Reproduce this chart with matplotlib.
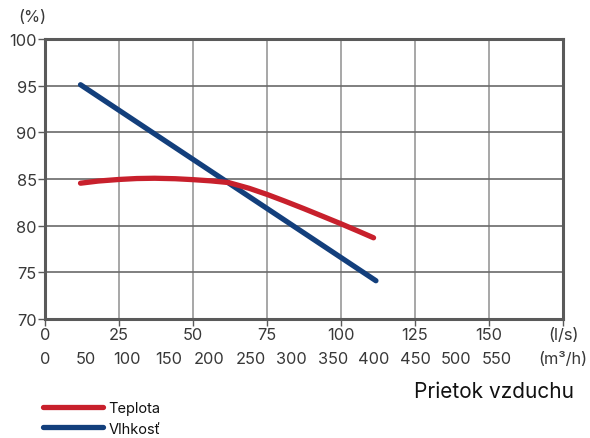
import matplotlib
matplotlib.use("Agg")
import matplotlib.pyplot as plt
from matplotlib.lines import Line2D

plt.rcParams["font.family"] = ["Inter", "DejaVu Sans"]

# ## Data ##
flow_ls_ticks = [0, 25, 50, 75, 100, 125, 150, 175]
flow_ls_labels = ["0", "25", "50", "75", "100", "125", "150", "(l/s)"]
flow_m3h_ticks = [0, 50, 100, 150, 200, 250, 300, 350, 400, 450, 500, 550, 630]
flow_m3h_labels = ["0", "50", "100", "150", "200", "250", "300", "350",
                   "400", "450", "500", "550", "(m³/h)"]
y_ticks = [70, 75, 80, 85, 90, 95, 100]

teplota_x = [12, 18, 25, 31, 37, 44, 50, 56, 62, 69, 75, 81, 87.5, 94, 100, 106, 111]
teplota_y = [84.55, 84.78, 84.95, 85.05, 85.08, 85.03, 84.93, 84.8, 84.62,
             84.0, 83.35, 82.63, 81.82, 80.98, 80.2, 79.39, 78.7]
vlhkost_x = [12, 111.8]
vlhkost_y = [95.1, 74.1]

RED = "#c8202c"
BLUE = "#133f7c"
SPINE = "#5a5a5a"
TEXT = "#383838"

fig = plt.figure(figsize=(5.9, 4.39), dpi=100)
ax = fig.add_axes([45 / 590, 1 - 320 / 439, (563 - 45) / 590, (320 - 40) / 439])

ax.plot(vlhkost_x, vlhkost_y, color=BLUE, lw=3.8, solid_capstyle="round", zorder=3)
ax.plot(teplota_x, teplota_y, color=RED, lw=3.8, solid_capstyle="round",
        solid_joinstyle="round", zorder=4)

ax.set_xlim(0, 175)
ax.set_ylim(70, 100)
ax.set_xticks(flow_ls_ticks)
ax.set_xticklabels(flow_ls_labels)
ax.set_yticks(y_ticks)
# horizontal grid darker than vertical, as in the original
ax.grid(True, axis="x", color="#a0a0a0", lw=1.3)
ax.grid(True, axis="y", color="#6a6a6a", lw=1.2)
ax.set_axisbelow(True)
for s in ax.spines.values():
    s.set_color(SPINE)
    s.set_linewidth(2.2)
ax.tick_params(axis="both", colors=SPINE, length=5, width=1, labelsize=11.8,
               labelcolor=TEXT, pad=1)

# second row of labels in m3/h
sec = ax.secondary_xaxis(-32 / 280, functions=(lambda x: x * 3.6, lambda x: x / 3.6))
sec.set_xticks(flow_m3h_ticks)
sec.set_xticklabels(flow_m3h_labels)
sec.spines["bottom"].set_visible(False)
sec.tick_params(length=0, labelsize=11.8, labelcolor=TEXT, pad=0)

fig.text(32 / 590, 1 - 18 / 439, "(%)", fontsize=11.8, color=TEXT,
         ha="center", va="center")
fig.text(494 / 590, 1 - 392 / 439, "Prietok vzduchu", fontsize=15,
         color="#111111", ha="center", va="center")

handles = [Line2D([], [], color=RED, lw=3.8, solid_capstyle="round"),
           Line2D([], [], color=BLUE, lw=3.8, solid_capstyle="round")]
leg = fig.legend(handles, ["Teplota", "Vlhkosť"], loc="upper left",
                 bbox_to_anchor=(43 / 590, 1 - 402 / 439), frameon=False,
                 fontsize=10.5, handlelength=4.1, handletextpad=0.4,
                 labelspacing=0.45, borderaxespad=0, borderpad=0)
for t in leg.get_texts():
    t.set_color("#111111")

fig.savefig("out.png", dpi=100)
